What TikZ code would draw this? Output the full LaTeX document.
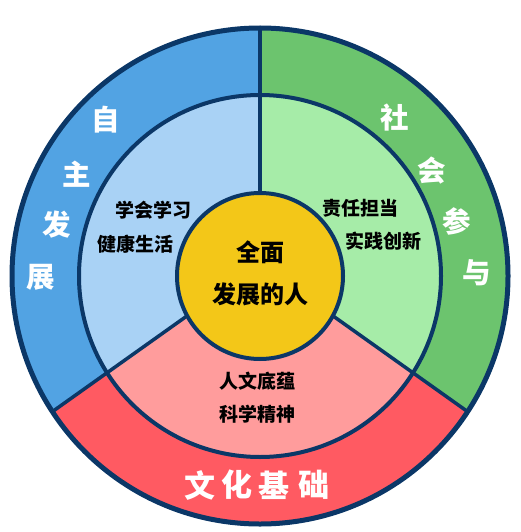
\documentclass[tikz,border=0pt]{standalone}
\usepackage{fontspec}
\newfontfamily\cjk{Noto Sans CJK SC}
\definecolor{navy}{HTML}{0B3767}
\definecolor{oblue}{HTML}{52A3E3}
\definecolor{lblue}{HTML}{A9D2F5}
\definecolor{ogreen}{HTML}{6CC46E}
\definecolor{lgreen}{HTML}{A6ECA8}
\definecolor{ored}{HTML}{FF5A62}
\definecolor{lred}{HTML}{FF9C9C}
\definecolor{yel}{HTML}{F3C718}
\tikzset{
  outerlbl/.style={text=white,font=\cjk\bfseries\fontsize{28.5}{32}\selectfont,inner sep=0pt},
  baselbl/.style={text=white,font=\cjk\bfseries\fontsize{31}{34}\selectfont,inner sep=0pt},
  innerlbl/.style={text=black,font=\cjk\bfseries\fontsize{19}{22}\selectfont,inner sep=0pt},
  centerlbl/.style={text=black,font=\cjk\bfseries\fontsize{24}{27}\selectfont,inner sep=0pt},
  border/.style={draw=navy,line width=4pt}
}
\begin{document}
\begin{tikzpicture}[x=1pt,y=-1pt]
\useasboundingbox (0,0) rectangle (520,532);
\coordinate (C) at (260,276);
\coordinate (P) at (260,264);
\coordinate (T) at (260,-100);
\coordinate (L) at (-100,520);
\coordinate (R) at (620,520);
% left sector
\begin{scope}
\clip (P) -- (T) -- (-100,-100) -- (L) -- cycle;
\fill[oblue] (C) circle[radius=248pt];
\fill[lblue] (C) circle[radius=181pt];
\end{scope}
% right sector
\begin{scope}
\clip (P) -- (T) -- (620,-100) -- (R) -- cycle;
\fill[ogreen] (C) circle[radius=248pt];
\fill[lgreen] (C) circle[radius=181pt];
\end{scope}
% bottom sector
\begin{scope}
\clip (P) -- (L) -- (-100,700) -- (620,700) -- (R) -- cycle;
\fill[ored] (C) circle[radius=248pt];
\fill[lred] (C) circle[radius=181pt];
\end{scope}
% dividers
\begin{scope}
\clip (C) circle[radius=248pt];
\draw[navy,line width=3.5pt] (P) -- (T);
\draw[navy,line width=3.5pt] (P) -- (L);
\draw[navy,line width=3.5pt] (P) -- (R);
\end{scope}
\draw[border] (C) circle[radius=181pt];
\fill[yel] (C) circle[radius=83pt];
\draw[border] (C) circle[radius=83pt];
\draw[draw=navy,line width=5pt] (C) circle[radius=248pt];
% outer labels
\node[outerlbl] (z1) at (106,120) {自};
\node[outerlbl] (z2) at (77,174) {主};
\node[outerlbl] (z3) at (57,225) {发};
\node[outerlbl] (z4) at (41,277) {展};
\node[outerlbl] (s1) at (395,118) {社};
\node[outerlbl] (s2) at (432,171) {会};
\node[outerlbl] (s3) at (457,221) {参};
\node[outerlbl] (s4) at (477,273) {与};
\node[baselbl] (b1) at (200,485) {文};
\node[baselbl] (b2) at (237,485) {化};
\node[baselbl] (b3) at (274,485) {基};
\node[baselbl] (b4) at (314,485) {础};
% inner labels
\node[innerlbl] (i1) at (153,210) {学会学习};
\node[innerlbl] (i2) at (135,244) {健康生活};
\node[innerlbl] (i3) at (360,208) {责任担当};
\node[innerlbl] (i4) at (383,241) {实践创新};
\node[innerlbl] (i5) at (257,381) {人文底蕴};
\node[innerlbl] (i6) at (257,414) {科学精神};
% center
\node[centerlbl] (c1) at (260,252) {全面};
\node[centerlbl] (c2) at (260,294) {发展的人};
\end{tikzpicture}
\end{document}
